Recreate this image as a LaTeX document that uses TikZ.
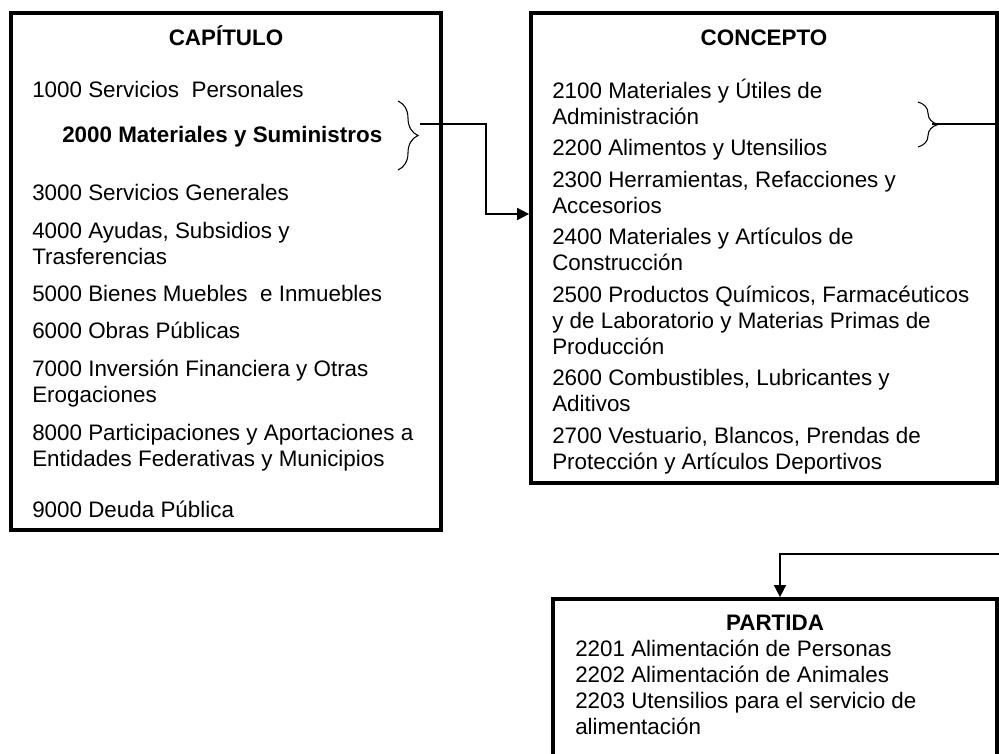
\documentclass[tikz,border=0pt]{standalone}
\usepackage{fontspec}
\setmainfont{Liberation Sans}
\usetikzlibrary{arrows.meta,decorations.pathreplacing}

\begin{document}
\begin{tikzpicture}[
    x=0.75pt, y=-0.75pt,
    box/.style={rectangle, draw, line width=2.8pt, inner sep=0pt},
    entry/.style={anchor=base west, inner sep=0pt, align=left, font=\fontsize{16.8}{19.5}\selectfont},
    title/.style={anchor=base, inner sep=0pt, font=\fontsize{16.8}{19.5}\selectfont\bfseries},
    arrow/.style={-{Triangle[length=9pt,width=9pt]}, line width=1.2pt},
    link/.style={line width=1.2pt},
    curly/.style={decorate, decoration={brace, amplitude=15pt}, line width=0.8pt}
]
    \useasboundingbox (0,0) rectangle (999,753);

    % Boxes
    \node[box, minimum width=322.5pt, minimum height=387.75pt] (capitulo) at (226,271.5) {};
    \node[box, minimum width=349.5pt, minimum height=352.5pt] (concepto) at (764,248) {};
    \node[box, minimum width=333pt, minimum height=135.75pt] (partida) at (775,689.5) {};

    % Capitulo (multi-line entries sit on their last baseline)
    \node[title] (capT) at (226,45) {CAPÍTULO};
    \node[entry] (c1000) at (32,97) {1000 Servicios~ Personales};
    \node[entry, font=\fontsize{16.8}{19.5}\selectfont\bfseries] (c2000) at (62,142) {2000 Materiales y Suministros};
    \node[entry] (c3000) at (32,200) {3000 Servicios Generales};
    \node[entry] (c4000) at (32,264) {4000 Ayudas, Subsidios y\\Trasferencias};
    \node[entry] (c5000) at (32,301) {5000 Bienes Muebles~ e Inmuebles};
    \node[entry] (c6000) at (32,338) {6000 Obras Públicas};
    \node[entry] (c7000) at (32,402) {7000 Inversión Financiera y Otras\\Erogaciones};
    \node[entry] (c8000) at (32,466) {8000 Participaciones y Aportaciones a\\Entidades Federativas y Municipios};
    \node[entry] (c9000) at (32,517) {9000 Deuda Pública};

    % Concepto
    \node[title] (conT) at (764,45) {CONCEPTO};
    \node[entry] (k2100) at (552,124) {2100 Materiales y Útiles de\\Administración};
    \node[entry] (k2200) at (552,155) {2200 Alimentos y Utensilios};
    \node[entry] (k2300) at (552,213) {2300 Herramientas, Refacciones y\\Accesorios};
    \node[entry] (k2400) at (552,270) {2400 Materiales y Artículos de\\Construcción};
    \node[entry] (k2500) at (552,354) {2500 Productos Químicos, Farmacéuticos\\y de Laboratorio y Materias Primas de\\Producción};
    \node[entry] (k2600) at (552,411) {2600 Combustibles, Lubricantes y\\Aditivos};
    \node[entry] (k2700) at (552,469) {2700 Vestuario, Blancos, Prendas de\\Protección y Artículos Deportivos};

    % Partida
    \node[title] (parT) at (775,630) {PARTIDA};
    \node[entry] (p2201) at (575,734) {2201 Alimentación de Personas\\2202 Alimentación de Animales\\2203 Utensilios para el servicio de\\alimentación};

    % Braces
    \draw[curly] (398,101) -- (398,170);
    \draw[curly] (918,102) -- (918,147);

    % Arrows
    \coordinate (brA) at (420,124);
    \coordinate (brB) at (932,124);
    \coordinate (bendA) at (486,214);
    \coordinate (offB) at (999,554);
    \coordinate (bendP) at (780,554);
    \draw[arrow] (brA) -| (bendA) -- (bendA -| concepto.west);
    \draw[link] (brB) -- (brB -| concepto.east);
    \draw[arrow] (offB) -- (bendP) -- (bendP |- partida.north);
\end{tikzpicture}
\end{document}
